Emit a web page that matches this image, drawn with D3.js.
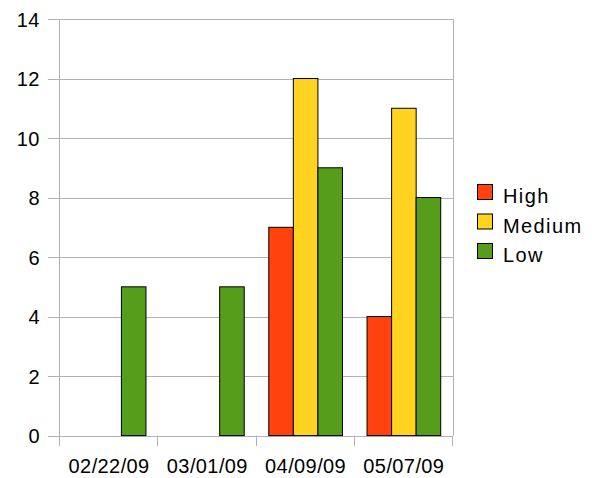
<!DOCTYPE html>
<html><head><meta charset="utf-8">
<script src="https://cdn.jsdelivr.net/npm/d3@7"></script>
<style>body{margin:0;background:#fff}text{font-family:"Liberation Sans",Arial,sans-serif}</style>
</head><body><svg id="c" width="592" height="478"></svg>
<script>
const categories = ["02/22/09","03/01/09","04/09/09","05/07/09"];
const seriesNames = ["High","Medium","Low"];
const high = [0,0,7,4];
const medium = [0,0,12,11];
const low = [5,5,9,8];
const colors = ["#ff420e","#ffd320","#579d1c"];
const yTicks = [0,2,4,6,8,10,12,14];

const svg = d3.select("#c");
const L=60,R=453,T=19,B=435.6;
const x = d3.scaleBand().domain(categories).range([L,R]).paddingInner(0).paddingOuter(0);
const y = d3.scaleLinear().domain([0,14]).range([B,T]);
const sub = d3.scaleBand().domain(seriesNames).range([0,x.bandwidth()]).paddingInner(0).paddingOuter(0.5);
const data = [high,medium,low];

// grid
svg.append("g").selectAll("line").data(yTicks).join("line")
  .attr("x1",48).attr("x2",R).attr("y1",d=>Math.round(y(d))+0.5).attr("y2",d=>Math.round(y(d))+0.5)
  .attr("stroke","#b3b3b3").attr("stroke-width",1);
// right border
svg.append("line").attr("x1",R+0.5).attr("x2",R+0.5).attr("y1",T).attr("y2",B).attr("stroke","#b3b3b3");
// y axis line
svg.append("line").attr("x1",L-0.5).attr("x2",L-0.5).attr("y1",T).attr("y2",446).attr("stroke","#b3b3b3");
// x ticks
const xt = categories.map(c=>x(c)).concat([R]);
svg.append("g").selectAll("line").data(xt).join("line")
  .attr("x1",d=>Math.round(d)-0.5).attr("x2",d=>Math.round(d)-0.5).attr("y1",B).attr("y2",446)
  .attr("stroke","#b3b3b3");
// y labels
svg.append("g").selectAll("text").data(yTicks).join("text")
  .attr("x",40).attr("y",d=>y(d)+7.5).attr("text-anchor","end")
  .attr("font-size",20).attr("letter-spacing",0.5).attr("fill","#000").text(d=>d);
// x labels
svg.append("g").selectAll("text").data(categories).join("text")
  .attr("x",d=>x(d)+x.bandwidth()/2).attr("y",473).attr("text-anchor","middle")
  .attr("font-size",20).attr("letter-spacing",0.4).attr("fill","#000").text(d=>d);
// bars
seriesNames.forEach((s,i)=>{
  svg.append("g").selectAll("rect").data(data[i].map((v,j)=>({v,c:categories[j]})).filter(d=>d.v>0)).join("rect")
    .attr("x",d=>x(d.c)+sub(s)).attr("width",sub.bandwidth())
    .attr("y",d=>y(d.v)).attr("height",d=>y(0)-y(d.v))
    .attr("fill",colors[i]).attr("stroke","#000").attr("stroke-width",1);
});
// legend
const lg = svg.append("g").selectAll("g").data(seriesNames).join("g")
  .attr("transform",(d,i)=>`translate(477,${184+i*29.5})`);
lg.append("rect").attr("x",0.5).attr("y",0.5).attr("width",15).attr("height",15)
  .attr("fill",(d,i)=>colors[i]).attr("stroke","#000");
lg.append("text").attr("x",26).attr("y",19).attr("font-size",20).attr("letter-spacing",1.4).text(d=>d);
</script></body></html>
